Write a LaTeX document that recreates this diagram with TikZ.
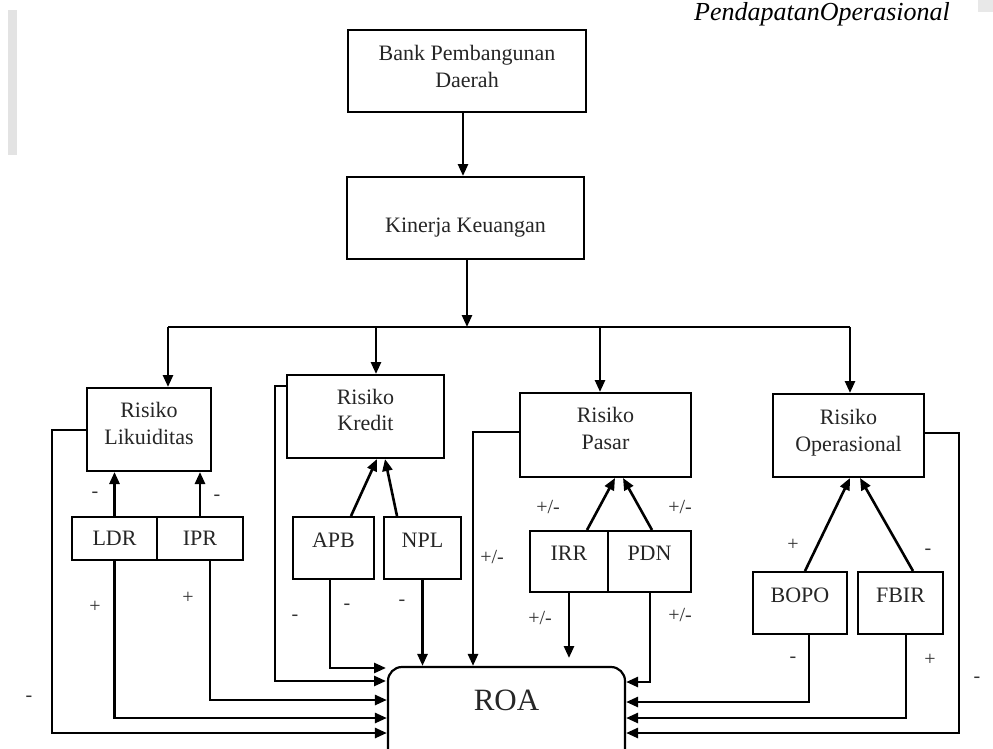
\documentclass[tikz,border=0pt]{standalone}
\usepackage{fontspec}
\setmainfont{Liberation Serif}
\usetikzlibrary{arrows.meta}
\begin{document}
\begin{tikzpicture}[x=1pt,y=-1pt,
  box/.style={draw, line width=2pt, inner sep=0pt},
  txt/.style={font=\fontsize{22}{26.5}\selectfont, align=center, inner sep=0pt, text=black!85},
  arr/.style={line width=2.6pt, -{Triangle[length=12pt,width=10pt]}},
  ln/.style={line width=2.6pt},
  lbl/.style={font=\fontsize{20}{24}\selectfont, inner sep=0pt, text=black!80},
]
\useasboundingbox (0,0) rectangle (993,749);
\clip (0,0) rectangle (993,749);
\fill[white] (0,0) rectangle (993,749);
% faint scan artefacts
\fill[gray!22] (8,10) rectangle (17,155);
\fill[gray!18] (978,0) rectangle (993,12);
\node[anchor=base west, inner sep=0pt, font=\itshape\fontsize{26}{30}\selectfont] (hdr) at (694,21) {PendapatanOperasional};

% top boxes
\node[box, minimum width=238pt, minimum height=82pt,
  label={[txt, name=bankT, yshift=4.5pt]center:Bank Pembangunan\\Daerah}] (bank) at (467,71) {};
\node[box, minimum width=237pt, minimum height=82pt,
  label={[txt, name=kinT, yshift=-9.5pt]center:Kinerja Keuangan}] (kin) at (465.5,218) {};

% risk boxes
\node[box, minimum width=124pt, minimum height=83pt,
  label={[txt, name=likT, yshift=6pt]center:Risiko\\Likuiditas}] (lik) at (149,429.5) {};
\node[box, minimum width=157pt, minimum height=83pt,
  label={[txt, name=kreT, yshift=6.5pt]center:Risiko\\Kredit}] (kre) at (365.5,416.5) {};
\node[box, minimum width=171pt, minimum height=84pt,
  label={[txt, name=pasT, yshift=6.5pt]center:Risiko\\Pasar}] (pas) at (605.5,435) {};
\node[box, minimum width=151pt, minimum height=83pt,
  label={[txt, name=opeT, yshift=3pt]center:Risiko\\Operasional}] (ope) at (848.5,435.5) {};

% indicator boxes
\node[box, minimum width=85pt, minimum height=43pt, label={[txt,name=ldrT]center:LDR}] (ldr) at (114.5,538.5) {};
\node[box, minimum width=86pt, minimum height=43pt, label={[txt,name=iprT]center:IPR}] (ipr) at (200,538.5) {};
\node[box, minimum width=81pt, minimum height=62pt, label={[txt,name=apbT,yshift=8pt]center:APB}] (apb) at (333.5,548) {};
\node[box, minimum width=77pt, minimum height=62pt, label={[txt,name=nplT,yshift=8pt]center:NPL}] (npl) at (422.5,548) {};
\node[box, minimum width=78pt, minimum height=61pt, label={[txt,name=irrT,yshift=8.5pt]center:IRR}] (irr) at (569,561.5) {};
\node[box, minimum width=83pt, minimum height=61pt, label={[txt,name=pdnT,yshift=8.5pt]center:PDN}] (pdn) at (649.5,561.5) {};
\node[box, minimum width=94pt, minimum height=62pt, label={[txt,name=bopoT,yshift=8pt]center:BOPO}] (bopo) at (800,603) {};
\node[box, minimum width=85pt, minimum height=62pt, label={[txt,name=fbirT,yshift=8pt]center:FBIR}] (fbir) at (900.5,603) {};

% ROA
\node[draw, line width=2.2pt, rounded corners=14pt, inner sep=0pt,
  minimum width=237pt, minimum height=133pt,
  label={[name=roaT, inner sep=0pt, text=black!85, font=\fontsize{31}{36}\selectfont, yshift=33.5pt]center:ROA}] (roa) at (506.5,733.5) {};

% top-down flow
\draw[arr] (bank.south -| 463,0) -- (kin.north -| 463,0);
\coordinate (busC) at (467,327);
\coordinate (busL) at (168,327);
\coordinate (busR) at (850,327);
\coordinate (busK) at (376,327);
\coordinate (busP) at (600,327);
\draw[arr] (kin.south -| busC) -- (busC);
\draw[ln] (busL) -- (busR);
\draw[arr] (busL) -- (lik.north -| busL);
\draw[arr] (busK) -- (kre.north -| busK);
\draw[arr] (busP) -- (pas.north -| busP);
\draw[arr] (busR) -- (ope.north -| busR);

% indicators to risks
\draw[arr] (ldr.north) -- (lik.south -| ldr.north);
\draw[arr] (ipr.north) -- (lik.south -| ipr.north);
\draw[arr] (apb.north -| 351,0) -- (kre.south -| 377,0);
\draw[arr] (npl.north -| 397,0) -- (kre.south -| 385,0);
\draw[arr] (irr.north -| 587,0) -- (pas.south -| 615,0);
\draw[arr] (pdn.north -| 652,0) -- (pas.south -| 623,0);
\draw[arr] (bopo.north -| 805,0) -- (ope.south -| 850,0);
\draw[arr] (fbir.north -| 913,0) -- (ope.south -| 860,0);

% to ROA, left side
\draw[arr] (lik.west |- 0,430) -| (52,733) -- (roa.west |- 0,733);
\draw[arr] (ldr.south) |- (roa.west |- 0,718);
\draw[arr] (ipr.south -| 210,0) |- (roa.west |- 0,700);
\draw[arr] (kre.west |- 0,386) -| (275,681) -- (386,681);
\draw[arr] (apb.south -| 330,0) |- (386,668);
\draw[arr] (npl.south) -- (npl.south |- roa.north);
\draw[arr] (pas.west |- 0,432) -| (roa.north -| 473,0);
\coordinate (irrEnd) at (569,658);
\draw[arr] (irr.south) -- (irrEnd);

% to ROA, right side
\draw[arr] (pdn.south -| 650,0) |- (roa.east |- 0,682);
\draw[arr] (bopo.south -| 809,0) |- (roa.east |- 0,702);
\draw[arr] (fbir.south -| 906,0) |- (roa.east |- 0,718);
\draw[arr] (ope.east |- 0,433) -| (959,733) -- (roa.east |- 0,733);

% signs
\node[lbl] (s1) at (95,495) {-};
\node[lbl] (s2) at (217,498) {-};
\node[lbl] (s3) at (95,607) {+};
\node[lbl] (s4) at (188,598) {+};
\node[lbl] (s5) at (29,699) {-};
\node[lbl] (s6) at (295,618) {-};
\node[lbl] (s7) at (347,607) {-};
\node[lbl] (s8) at (402,603) {-};
\node[lbl] (s9) at (492,557) {+/-};
\node[lbl] (s10) at (548,507) {+/-};
\node[lbl] (s11) at (680,507) {+/-};
\node[lbl] (s12) at (540,618) {+/-};
\node[lbl] (s13) at (680,615) {+/-};
\node[lbl] (s14) at (793,545) {+};
\node[lbl] (s15) at (928,552) {-};
\node[lbl] (s16) at (793,660) {-};
\node[lbl] (s17) at (930,660) {+};
\node[lbl] (s18) at (977,680) {-};
\end{tikzpicture}
\end{document}
